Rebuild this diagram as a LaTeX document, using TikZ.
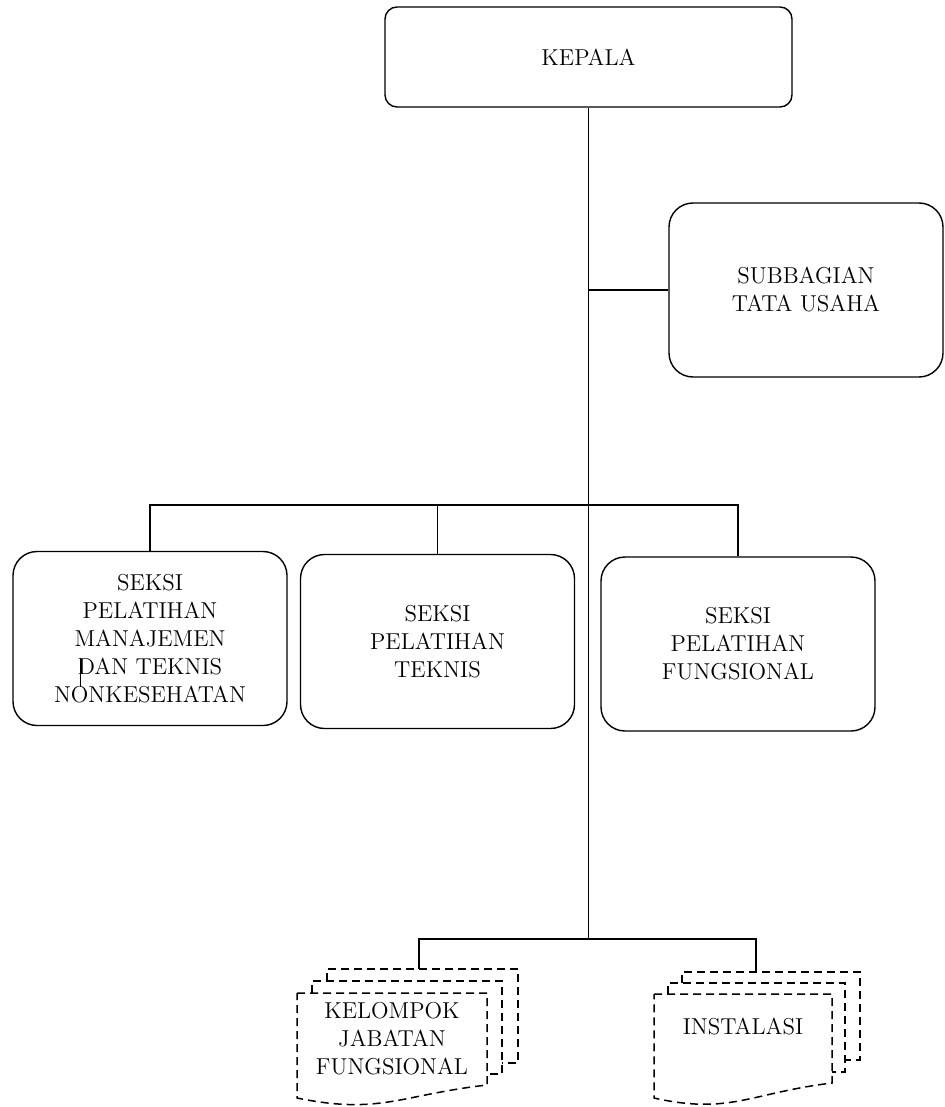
\documentclass[tikz,border=0pt]{standalone}
\usepackage{tikz}
\usetikzlibrary{positioning}

\begin{document}
\begin{tikzpicture}[
    x = .5pt,
    y = -.5pt,
    font = \fontsize{11.5}{14}\selectfont,
    line width = .7pt,
    headf/.style = {
      rectangle,
      draw,
      rounded corners=6pt,
      align=center,
      minimum width=203.5pt,
      minimum height=50pt
    },
    unitf/.style = {
      rectangle,
      draw,
      rounded corners=12pt,
      align=center,
      minimum width=137pt,
      minimum height=87pt
    },
    docf/.style = {
      rectangle,
      align=center,
      inner sep=0pt
    },
    pagef/.style = {
      line width=.75pt,
      dash pattern=on 4pt off 2.5pt
    }
  ]
    \useasboundingbox (0,0) rectangle (944,1107);

    \node[headf] (kepala) at (588.5,57) {KEPALA};
    \node[unitf] (tu) at (806,290) {SUBBAGIAN\\TATA USAHA};
    \node[unitf] (s1) at (150,638.5) {SEKSI\\PELATIHAN\\MANAJEMEN\\DAN TEKNIS\\NONKESEHATAN};
    \node[unitf] (s2) at (437.5,641.5) {SEKSI\\PELATIHAN\\TEKNIS};
    \node[unitf] (s3) at (738,644) {SEKSI\\PELATIHAN\\FUNGSIONAL};
    \node[docf] (kjf) at (392,1039) {KELOMPOK\\JABATAN\\FUNGSIONAL};
    \node[docf] (inst) at (743,1027) {INSTALASI};

    \coordinate (topbar) at (588.5,505);
    \coordinate (botbar) at (588.5,939);
    \coordinate (kjftop) at (419,969);
    \coordinate (insttop) at (756,972);

    % stacked pages
    \draw[pagef] (297,993) -- (487,993) -- (487,1085)
      .. controls (400,1095) and (380,1115) .. (297,1098) -- cycle;
    \draw[pagef] (312,993) -- (312,981) -- (502,981) -- (502,1074) -- (487,1074);
    \draw[pagef] (327,981) -- (327,969) -- (518,969) -- (518,1063) -- (502,1063);

    \draw[pagef] (654,994) -- (832,994) -- (832,1083)
      .. controls (750,1093) and (730,1115) .. (654,1098) -- cycle;
    \draw[pagef] (668,994) -- (668,983) -- (845,983) -- (845,1072) -- (832,1072);
    \draw[pagef] (682,983) -- (682,972) -- (860,972) -- (860,1060) -- (845,1060);

    \draw (kepala.south) -- (botbar);
    \draw (kepala.south |- tu.west) -- (tu.west);
    \draw (s1.north) |- (topbar) -| (s3.north);
    \draw (s2.north) -- (s2.north |- topbar);
    \draw (kjftop) |- (botbar) -| (insttop);

    \draw[line width=.5pt] (80,658) -- (80,687);

  \end{tikzpicture}
\end{document}
